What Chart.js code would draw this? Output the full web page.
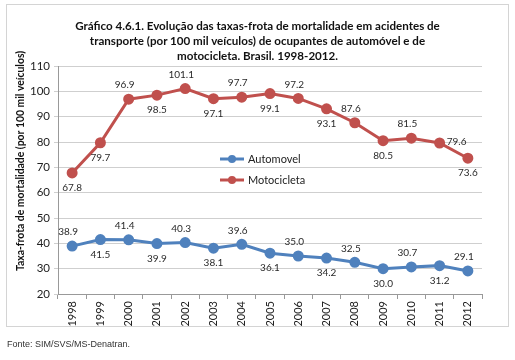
<!DOCTYPE html>
<html>
<head>
<meta charset="utf-8">
<script src="https://cdn.jsdelivr.net/npm/chart.js@4"></script>
<style>
  html, body { margin: 0; padding: 0; background: #fff; }
  #wrap { position: relative; width: 515px; height: 360px; overflow: hidden; }
  #frame { position: absolute; left: 6px; top: 4px; width: 501px; height: 321px; border: 1px solid #d4d4d4; }
  #title { position: absolute; left: 0; top: 18px; width: 515px; text-align: center;
           font: bold 11.6px Lato, sans-serif; line-height: 15px; color: #111; }
  #chart { position: absolute; left: 0; top: 0; }
  #source { position: absolute; left: 7px; top: 339px; font: 9px "Liberation Sans", Arial, sans-serif; color: #333; }
</style>
</head>
<body>
<div id="wrap">
  <div id="frame"></div>
  <canvas id="chart" width="515" height="360"></canvas>
  <div id="title">Gráfico 4.6.1. Evolução das taxas-frota de mortalidade em acidentes de<br>transporte (por 100 mil veículos) de ocupantes de automóvel e de<br>motocicleta. Brasil. 1998-2012.</div>
  <div id="source">Fonte: SIM/SVS/MS-Denatran.</div>
</div>
<script>
// Chart data
const years = ['1998', '1999', '2000', '2001', '2002', '2003', '2004', '2005',
               '2006', '2007', '2008', '2009', '2010', '2011', '2012'];
const automovel = [38.9, 41.5, 41.4, 39.9, 40.3, 38.1, 39.6, 36.1, 35.0, 34.2, 32.5, 30.0, 30.7, 31.2, 29.1];
const motocicleta = [67.8, 79.7, 96.9, 98.5, 101.1, 97.1, 97.7, 99.1, 97.2, 93.1, 87.6, 80.5, 81.5, 79.6, 73.6];
const yTicks = [20, 30, 40, 50, 60, 70, 80, 90, 100, 110];
const yTitle = 'Taxa-frota de mortalidade (por 100 mil veículos)';

// where each value label sits relative to its point
const autoLabelPos = ['above', 'below', 'above', 'below', 'above', 'below', 'above', 'below',
                      'above', 'below', 'above', 'below', 'above', 'below', 'above'];
const motoLabelPos = ['below', 'below', 'above', 'below', 'above', 'below', 'above', 'below',
                      'above', 'below', 'above', 'below', 'above', 'right', 'below'];

const BLUE = '#4F81BD';
const RED = '#C0504D';

// Draws the value next to each point
const valueLabels = {
  id: 'valueLabels',
  afterDatasetsDraw(chart) {
    const ctx = chart.ctx;
    ctx.save();
    ctx.font = '10px Lato, sans-serif';
    ctx.fillStyle = '#2a2a2a';
    ctx.textAlign = 'center';
    ctx.textBaseline = 'middle';
    chart.data.datasets.forEach((ds, i) => {
      const meta = chart.getDatasetMeta(i);
      meta.data.forEach((pt, j) => {
        const pos = ds.labelPos[j];
        let x = pt.x, y = pt.y;
        if (pos === 'above') { y -= 14; x -= 4; }
        else if (pos === 'below') { y += 15; }
        else if (pos === 'right') { x += 17; y -= 1; }
        ctx.fillText(ds.data[j].toFixed(1), x, y);
      });
    });
    ctx.restore();
  }
};

// Legend drawn inside the plot area, plus the rotated axis title
const innerLegend = {
  id: 'innerLegend',
  afterDraw(chart) {
    const ctx = chart.ctx;
    const area = chart.chartArea;
    ctx.save();
    const lx = area.left + 162;
    let ly = area.top + 93;
    chart.data.datasets.forEach(ds => {
      ctx.strokeStyle = ds.borderColor;
      ctx.lineWidth = 3;
      ctx.beginPath();
      ctx.moveTo(lx, ly);
      ctx.lineTo(lx + 24, ly);
      ctx.stroke();
      ctx.fillStyle = ds.borderColor;
      ctx.beginPath();
      ctx.arc(lx + 12, ly, 4, 0, Math.PI * 2);
      ctx.fill();
      ctx.fillStyle = '#222';
      ctx.font = '11px Lato, sans-serif';
      ctx.textBaseline = 'middle';
      ctx.fillText(ds.label, lx + 28, ly);
      ly += 21;
    });

    ctx.translate(21, 161);
    ctx.rotate(-Math.PI / 2);
    ctx.font = 'bold 10.4px Lato, sans-serif';
    ctx.fillStyle = '#111';
    ctx.textAlign = 'center';
    ctx.textBaseline = 'middle';
    ctx.fillText(yTitle, 0, 0);
    ctx.restore();
  }
};

new Chart(document.getElementById('chart'), {
  type: 'line',
  data: {
    labels: years,
    datasets: [
      {
        label: 'Automovel',
        data: automovel,
        labelPos: autoLabelPos,
        borderColor: BLUE,
        backgroundColor: BLUE,
        borderWidth: 3,
        pointRadius: 4,
        pointHoverRadius: 4,
        tension: 0
      },
      {
        label: 'Motocicleta',
        data: motocicleta,
        labelPos: motoLabelPos,
        borderColor: RED,
        backgroundColor: RED,
        borderWidth: 3,
        pointRadius: 4,
        pointHoverRadius: 4,
        tension: 0
      }
    ]
  },
  options: {
    responsive: false,
    animation: false,
    layout: { padding: { top: 66, right: 33, left: 0, bottom: 0 } },
    plugins: {
      legend: { display: false },
      tooltip: { enabled: false }
    },
    scales: {
      x: {
        offset: true,
        afterFit: s => { s.height = 66; },
        grid: { offset: true, drawOnChartArea: false, tickLength: 5, color: '#999' },
        border: { color: '#999' },
        ticks: {
          minRotation: 90,
          maxRotation: 90,
          padding: 2,
          color: '#222',
          font: { family: 'Lato', size: 11 }
        }
      },
      y: {
        min: 20,
        max: 110,
        afterFit: s => { s.width = 58; },
        afterBuildTicks: s => { s.ticks = yTicks.map(v => ({ value: v })); },
        grid: { color: '#cfcfcf', tickLength: 4 },
        border: { color: '#999' },
        ticks: {
          padding: 4,
          color: '#222',
          font: { family: 'Lato', size: 11.5 }
        }
      }
    }
  },
  plugins: [valueLabels, innerLegend]
});
</script>
</body>
</html>
